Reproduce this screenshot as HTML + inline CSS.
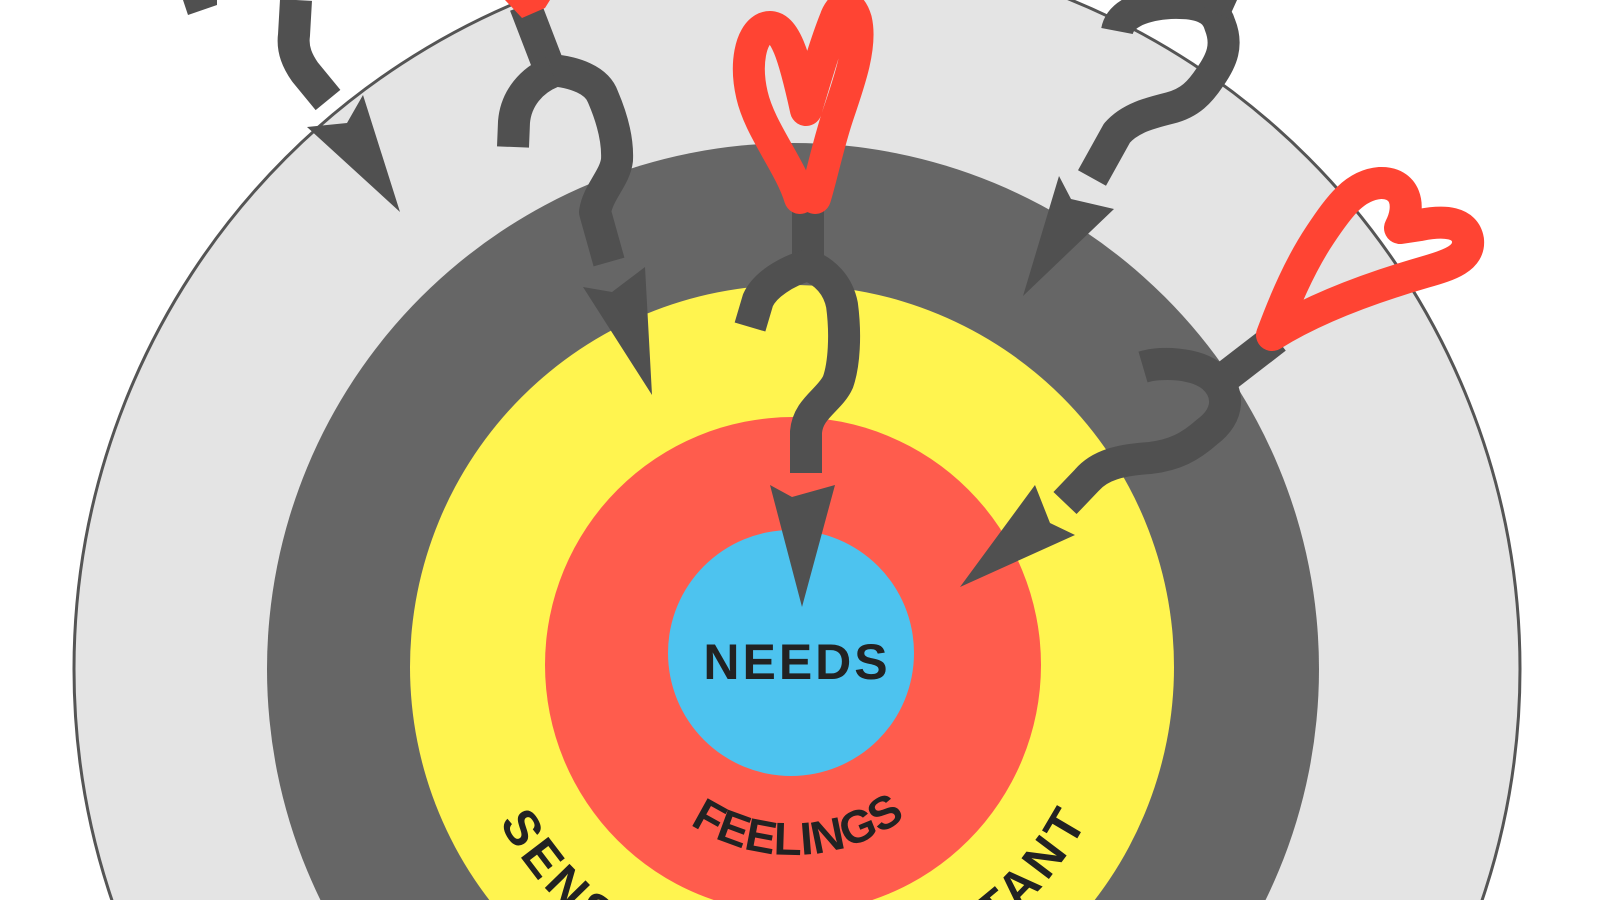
<!DOCTYPE html>
<html><head><meta charset="utf-8"><style>
html,body{margin:0;padding:0;background:#fff;width:1600px;height:900px;overflow:hidden;}
svg{display:block;}
text{font-family:"Liberation Sans",Arial,sans-serif;font-weight:bold;fill:#222;}
</style></head><body>
<svg width="1600" height="900" viewBox="0 0 1600 900" xmlns="http://www.w3.org/2000/svg">
<defs>
<path id="arcS" d="M461,667 A332,332 0 0 0 1125,667"/>
<path id="arcF" d="M605,667 A188,188 0 0 0 981,667"/>
</defs>
<rect width="1600" height="900" fill="#fff"/>
<circle cx="797" cy="669" r="723" fill="#e4e4e4" stroke="#555" stroke-width="3"/>
<circle cx="793" cy="669" r="526" fill="#666"/>
<circle cx="792" cy="667" r="382" fill="#fff44f"/>
<circle cx="793" cy="665" r="248" fill="#ff5c4d"/>
<circle cx="791" cy="653" r="123" fill="#4dc3ef"/>

<text x="797" y="679" font-size="50" text-anchor="middle" letter-spacing="3">NEEDS</text>
<text font-size="46"><textPath href="#arcF" startOffset="51%" text-anchor="middle">FEELINGS</textPath></text>
<text font-size="50"><textPath href="#arcS" startOffset="50%" text-anchor="middle" textLength="720" lengthAdjust="spacing">SENSITIVE &amp; IMPORTANT</textPath></text>

<g fill="none" stroke="#505050" stroke-width="32" stroke-linejoin="round">
<path d="M296,0 L294,35 C292,50 298,62 305,72 L328,100"/>
<path d="M525,5 L550,70 C575,72 597,80 603,97 C612,118 618,140 617,160 C615,178 598,192 595,212 L609,262"/>
<path d="M513,147 L514,122 C516,98 532,80 552,72"/>
<path d="M808,205 L808,265 C825,272 838,285 842,305 C846,335 844,365 838,382 C830,400 808,408 806,432 L806,473"/>
<path d="M808,265 C785,272 765,285 758,300 L750,327"/>
<path d="M1117,31 C1120,15 1140,5 1170,3 C1200,2 1215,8 1220,25 C1228,45 1222,60 1210,77 C1200,92 1190,103 1170,108 C1150,113 1130,118 1117,133 L1092,178"/>
<path d="M1214,12 L1224,-10"/>
<path d="M1276,338 L1215,385"/>
<path d="M1143,367 C1160,362 1195,362 1213,377 C1230,392 1230,415 1207,432 C1190,447 1175,455 1150,458 C1120,460 1100,465 1087,480 L1065,503"/>
</g>
<g fill="#505050">
<polygon points="183,0 217,0 217,5 188,15"/>
<polygon points="307,127 347,123 363,95 400,212"/>
<polygon points="583,287 612,292 645,267 652,395"/>
<polygon points="770,485 792,497 835,485 802,607"/>
<polygon points="1059,176 1071,199 1114,209 1023,296"/>
<polygon points="960,587 1035,485 1050,523 1075,535"/>
</g>
<g fill="none" stroke="#ff4433" stroke-width="32" stroke-linejoin="round" stroke-linecap="round">
<path d="M800,198 C790,165 760,130 752,95 C745,65 750,35 765,28 C785,20 795,60 806,110 C815,80 825,45 835,20 C840,5 850,0 856,20 C862,45 850,80 838,115 C828,145 822,175 815,198"/>
<path d="M1272,335 C1285,300 1300,265 1320,235 C1340,205 1355,185 1380,183 C1405,182 1412,205 1400,228 L1420,225 C1445,220 1465,222 1468,240 C1470,258 1450,265 1425,272 C1380,285 1320,305 1272,335"/>
</g>
<polygon points="505,0 550,0 545,8 522,18" fill="#ff4433"/>
<polygon points="790,192 826,192 822,206 794,206" fill="#ff4433"/>
</svg>
</body></html>
